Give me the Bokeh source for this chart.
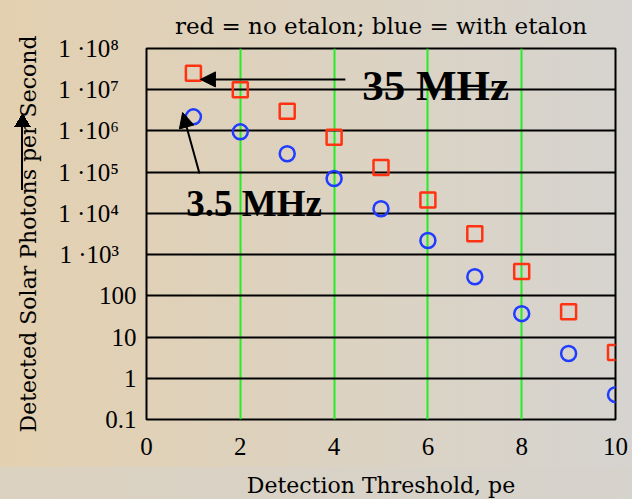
from bokeh.plotting import figure
from bokeh.models import FixedTicker, Label, Arrow, NormalHead, InlineStyleSheet
from bokeh.embed import file_html
from bokeh.resources import INLINE

# ---- data ----
threshold = [1, 2, 3, 4, 5, 6, 7, 8, 9, 10]
no_etalon = [2.5e7, 1.0e7, 3.0e6, 7.0e5, 1.3e5, 2.1e4, 3.2e3, 390, 41, 4.2]
with_etalon = [2.2e6, 9.5e5, 2.8e5, 7.0e4, 1.3e4, 2.2e3, 290, 37, 4.0, 0.4]

y_ticks = [0.1, 1, 10, 100, 1e3, 1e4, 1e5, 1e6, 1e7, 1e8]
PAD = "\u2007\u2009"
y_tick_labels = ["0.1", "1", "10", "100", "1 ·10³" + PAD, "1 ·10⁴" + PAD,
                 "1 ·10⁵" + PAD, "1 ·10⁶" + PAD, "1 ·10⁷" + PAD, "1 ·10⁸" + PAD]
x_ticks = [0, 2, 4, 6, 8, 10]
x_grid_ticks = [2, 4, 6, 8, 10]

title_text = "red = no etalon; blue = with etalon"
x_label = "Detection Threshold, pe"
y_label = "Detected Solar Photons per Second"

# annotations (data coordinates)
big_label = ("35 MHz", 4.6, 1.25e7)
small_label = ("3.5 MHz", 0.85, 1.7e4)
arrow_big = (4.24, 1.78e7, 1.15, 1.78e7)
arrow_small = (1.13, 9.3e4, 0.77, 2.8e6)

SERIF = "DejaVu Serif"
TICKFONT = "Liberation Serif"

p = figure(frame_width=469, frame_height=371,
           x_range=(0, 10), y_range=(0.1, 1e8), y_axis_type="log",
           output_backend="svg", toolbar_location=None,
           min_border_left=146, min_border_right=17,
           min_border_top=48, min_border_bottom=80,
           title=title_text)

# page background (tan-to-grey gradient) plus the stray arrow that sits over
# the y-axis title in the original slide
p.stylesheets = [InlineStyleSheet(css=(
    ":host { background:"
    " linear-gradient(#000, #000) 21px 126px / 2px 64px no-repeat,"
    " conic-gradient(from 149deg at 50% 0%, #000 62deg, transparent 62deg)"
    " 14px 113px / 17px 14px no-repeat,"
    " linear-gradient(to bottom, rgba(0,0,0,0) 467px, rgba(214,210,202,0.6) 467px),"
    " linear-gradient(to right, #e3d0b0, #d6d4d0); }"))]

p.background_fill_alpha = 0
p.border_fill_alpha = 0
p.outline_line_color = "black"
p.outline_line_width = 2

p.title.text_font = SERIF
p.title.text_font_size = "23px"
p.title.text_font_style = "normal"
p.title.align = "center"
p.title.text_color = "black"
p.title.standoff = 19

p.xaxis.ticker = FixedTicker(ticks=x_ticks)
p.yaxis.ticker = FixedTicker(ticks=y_ticks)
p.yaxis.major_label_overrides = {t: l for t, l in zip(y_ticks, y_tick_labels)}

for ax in (p.xaxis, p.yaxis):
    ax.axis_line_color = None
    ax.major_tick_line_color = None
    ax.minor_tick_line_color = None
    ax.major_label_text_font = TICKFONT
    ax.major_label_text_font_size = "25px"
    ax.major_label_text_color = "black"
    ax.axis_label_text_font = SERIF
    ax.axis_label_text_font_size = "22px"
    ax.axis_label_text_font_style = "normal"
    ax.axis_label_text_color = "black"

p.xaxis.axis_label = x_label
p.yaxis.axis_label = y_label
p.xaxis.major_label_standoff = 12
p.xaxis.axis_label_standoff = 15
p.yaxis.major_label_standoff = 4
p.yaxis.axis_label_standoff = 14

p.ygrid.grid_line_color = "black"
p.ygrid.grid_line_width = 2
p.ygrid.minor_grid_line_color = None
p.xgrid.ticker = FixedTicker(ticks=x_grid_ticks)
p.xgrid.grid_line_color = "#22ee22"
p.xgrid.grid_line_width = 2

p.scatter(threshold, no_etalon, marker="square", size=15,
          fill_alpha=0, line_color="#ff3311", line_width=2.5)
p.scatter(threshold, with_etalon, marker="circle", size=15,
          fill_alpha=0, line_color="#1f3cff", line_width=2.5)

for txt, x, y, fs in [(big_label[0], big_label[1], big_label[2], "43px"),
                      (small_label[0], small_label[1], small_label[2], "37px")]:
    p.add_layout(Label(x=x, y=y, text=txt, text_font="Liberation Serif",
                       text_font_size=fs, text_font_style="bold",
                       text_baseline="middle", text_color="black"))

for (xs, ys, xe, ye) in (arrow_big, arrow_small):
    p.add_layout(Arrow(end=NormalHead(size=15, fill_color="black",
                                      line_color="black"),
                       x_start=xs, y_start=ys, x_end=xe, y_end=ye,
                       line_width=2, line_color="black"))

open("out.html", "w").write(file_html(p, INLINE))
